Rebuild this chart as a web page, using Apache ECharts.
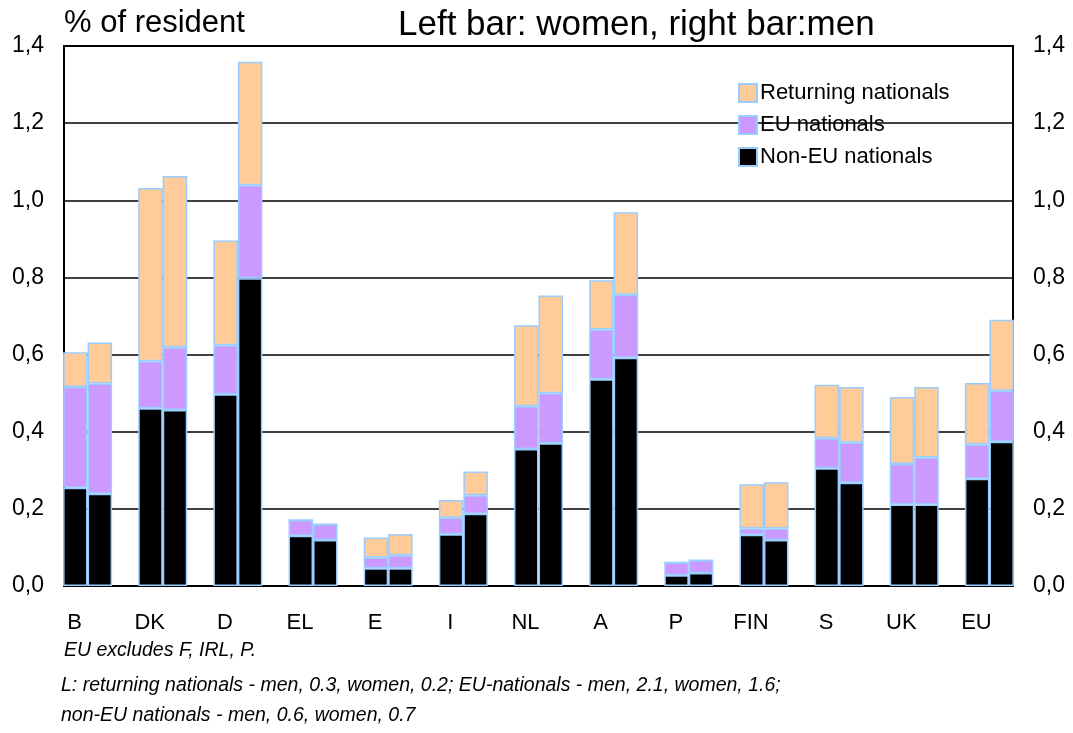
<!DOCTYPE html>
<html>

<head>
  <meta charset="utf-8">
  <title>Returning, EU and non-EU nationals</title>
</head>

<body style="margin:0">
  <div id="main" style="width:1073px;height:733px;"></div>
  <script type="text/javascript" src="https://cdn.jsdelivr.net/npm/echarts@6/dist/echarts.min.js"></script>
  <script type="text/javascript">
    // categories and values (% of resident)
    const categories = ['B', 'DK', 'D', 'EL', 'E', 'I', 'NL', 'A', 'P', 'FIN', 'S', 'UK', 'EU'];
    const nonEuWomen = [0.255, 0.461, 0.497, 0.130, 0.046, 0.134, 0.355, 0.536, 0.028, 0.133, 0.305, 0.211, 0.278];
    const euWomen = [0.261, 0.122, 0.127, 0.041, 0.028, 0.043, 0.111, 0.129, 0.033, 0.016, 0.078, 0.105, 0.089];
    const retWomen = [0.090, 0.449, 0.272, 0, 0.052, 0.046, 0.210, 0.128, 0, 0.115, 0.139, 0.174, 0.159];
    const nonEuMen = [0.239, 0.456, 0.798, 0.119, 0.046, 0.187, 0.370, 0.592, 0.034, 0.119, 0.268, 0.211, 0.374];
    const euMen = [0.286, 0.163, 0.241, 0.041, 0.034, 0.048, 0.130, 0.163, 0.033, 0.030, 0.104, 0.122, 0.132];
    const retMen = [0.106, 0.444, 0.320, 0, 0.055, 0.062, 0.253, 0.214, 0, 0.120, 0.144, 0.183, 0.184];
    const legendNames = ['Returning nationals', 'EU nationals', 'Non-EU nationals'];
    const footnotes = [
      'EU excludes F, IRL, P.',
      'L: returning nationals - men, 0.3, women, 0.2; EU-nationals - men, 2.1, women, 1.6;',
      'non-EU nationals - men, 0.6, women, 0.7'
    ];

    const font = 'Arial, "Liberation Sans", sans-serif';
    const border = '#99CCFF';
    const colors = { ret: '#FFCC99', eu: '#CC99FF', non: '#000000' };
    const fmt = v => v.toFixed(1).replace('.', ',');

    function bar(name, stack, data, color) {
      return {
        name: name,
        type: 'bar',
        stack: stack,
        data: data,
        xAxisIndex: 0,
        yAxisIndex: 0,
        barWidth: 24.5,
        barGap: '0%',
        itemStyle: { color: color, borderColor: border, borderWidth: 1.5 },
        emphasis: { disabled: true }
      };
    }

    const option = {
      animation: false,
      textStyle: { fontFamily: font },
      title: [
        { text: '% of resident', left: 59, top: 3, textStyle: { fontSize: 31, fontWeight: 'normal', color: '#000', fontFamily: font } },
        { text: 'Left bar: women, right bar:men', left: 393, top: 3, textStyle: { fontSize: 35, fontWeight: 'normal', color: '#000', fontFamily: font } }
      ],
      legend: {
        data: legendNames,
        orient: 'vertical',
        left: 733,
        top: 77,
        itemWidth: 18,
        itemHeight: 18,
        itemGap: 10,
        icon: 'rect',
        textStyle: { fontSize: 22, color: '#000', fontFamily: font, padding: [0, 0, 0, -2] }
      },
      grid: [
        // bars: categories laid out so the first and last pair touch the frame
        { left: 50, right: 46, top: 46, bottom: 147 },
        // frame, gridlines and value axes
        { left: 64, right: 60, top: 46, bottom: 147, show: true, borderColor: '#000', borderWidth: 2 }
      ],
      xAxis: [
        {
          type: 'category', gridIndex: 0, data: categories,
          axisLine: { show: false }, axisTick: { show: false },
          axisLabel: { fontSize: 22, color: '#000', margin: 26, padding: [0, 26, 0, 0], fontFamily: font }
        },
        { type: 'value', gridIndex: 1, min: 0, max: 1, show: false }
      ],
      yAxis: [
        { type: 'value', gridIndex: 0, min: 0, max: 1.4, interval: 0.2, show: false },
        {
          type: 'value', gridIndex: 1, position: 'left', min: 0, max: 1.4, interval: 0.2,
          axisLine: { show: true, lineStyle: { color: '#000', width: 2 } }, axisTick: { show: false },
          splitLine: { show: true, lineStyle: { color: '#000', width: 1.5 } },
          axisLabel: { formatter: fmt, fontSize: 23, color: '#000', margin: 20, fontFamily: font }
        },
        {
          type: 'value', gridIndex: 1, position: 'right', min: 0, max: 1.4, interval: 0.2,
          axisLine: { show: true, lineStyle: { color: '#000', width: 2 } }, axisTick: { show: false },
          splitLine: { show: false },
          axisLabel: { formatter: fmt, fontSize: 23, color: '#000', margin: 20, fontFamily: font }
        }
      ],
      series: [
        bar('Non-EU nationals', 'women', nonEuWomen, colors.non),
        bar('EU nationals', 'women', euWomen, colors.eu),
        bar('Returning nationals', 'women', retWomen, colors.ret),
        bar('Non-EU nationals', 'men', nonEuMen, colors.non),
        bar('EU nationals', 'men', euMen, colors.eu),
        bar('Returning nationals', 'men', retMen, colors.ret)
      ],
      graphic: [
        { type: 'text', left: 64, top: 641, style: { text: footnotes[0], font: 'italic 19.5px ' + font, fill: '#000' } },
        { type: 'text', left: 61, top: 676, style: { text: footnotes[1], font: 'italic 19.5px ' + font, fill: '#000' } },
        { type: 'text', left: 61, top: 706, style: { text: footnotes[2], font: 'italic 19.5px ' + font, fill: '#000' } }
      ]
    };

    var myChart = echarts.init(document.getElementById('main'));
    myChart.setOption(option);
  </script>
</body>

</html>
